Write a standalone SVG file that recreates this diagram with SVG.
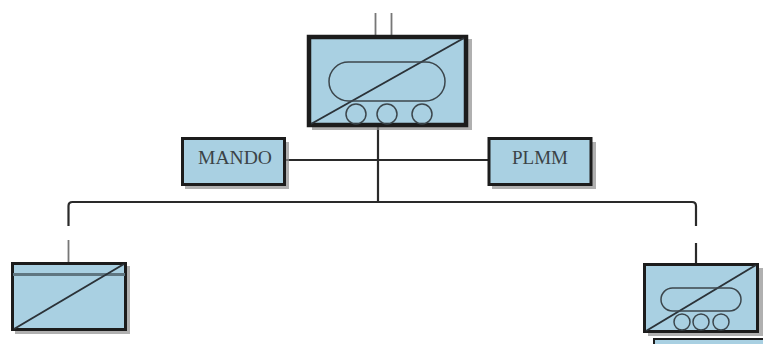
<svg xmlns="http://www.w3.org/2000/svg" width="763" height="344" viewBox="0 0 763 344">
<style>
.shadow{fill:#8f8f8f;opacity:.7}
.box{fill:#a9d0e2;stroke:#1c1c1c}
.thick{stroke-width:4.500}
.mid{stroke-width:3}
.diag{stroke:#2b3238;stroke-width:2;fill:none}
.sym{stroke:#3c464c;stroke-width:1.500;fill:none}
.wire{stroke:#2a2a2a;stroke-width:2.200;fill:none}
.wire2{stroke:#777;stroke-width:1.800;fill:none}
.label{font-family:"Liberation Serif",serif;font-size:19px;fill:#3b4347;text-anchor:middle}
</style>
<g id="connectors">
<path class="wire2" d="M375.500 13V35M391.500 13V35"/>
<path class="wire" d="M378 126V202M285 160H488"/>
<path class="wire" d="M68.500 226V206Q68.500 202 72.500 202H692Q696 202 696 206V226"/>
<path class="wire2" d="M68.500 240V263"/>
<path class="wire" d="M696 243V264"/>
</g>
<g id="node-top">
<rect class="shadow" x="312" y="39" width="160" height="91"/>
<rect class="box thick" x="309" y="37" width="157" height="88"/>
<path class="diag" d="M311 124L464 38"/>
<rect class="sym" x="329" y="62" width="116" height="39" rx="19.500"/>
<circle class="sym" cx="356" cy="114" r="10"/>
<circle class="sym" cx="387" cy="114" r="10"/>
<circle class="sym" cx="422" cy="114" r="10"/>
</g>
<g id="node-mando">
<rect class="shadow" x="185" y="142" width="104" height="47"/>
<rect class="box mid" x="182.500" y="138.500" width="102" height="46"/>
<text class="label" x="235" y="164" textLength="74" lengthAdjust="spacingAndGlyphs">MANDO</text>
</g>
<g id="node-plmm">
<rect class="shadow" x="492" y="142" width="104" height="47"/>
<rect class="box mid" x="489" y="138.500" width="102" height="46"/>
<text class="label" x="540" y="164" textLength="56" lengthAdjust="spacingAndGlyphs">PLMM</text>
</g>
<g id="node-left">
<rect class="shadow" x="15" y="266" width="115" height="68"/>
<rect class="box mid" x="12.500" y="263.500" width="113" height="66"/>
<path d="M13 274.500H125" stroke="#5f7681" stroke-width="3" fill="none"/>
<path class="diag" d="M14 329L124 264"/>
</g>
<g id="node-right">
<rect class="box" x="654" y="339" width="112" height="10" stroke-width="2"/>
<rect class="shadow" x="648" y="268" width="115" height="68"/>
<rect class="box mid" x="644.500" y="264.500" width="113" height="67"/>
<path class="diag" d="M646 331L756 265"/>
<rect class="sym" x="661" y="288" width="80" height="23" rx="11.500"/>
<circle class="sym" cx="682" cy="322" r="8"/>
<circle class="sym" cx="701" cy="322" r="8"/>
<circle class="sym" cx="721" cy="322" r="8"/>
</g>
</svg>
